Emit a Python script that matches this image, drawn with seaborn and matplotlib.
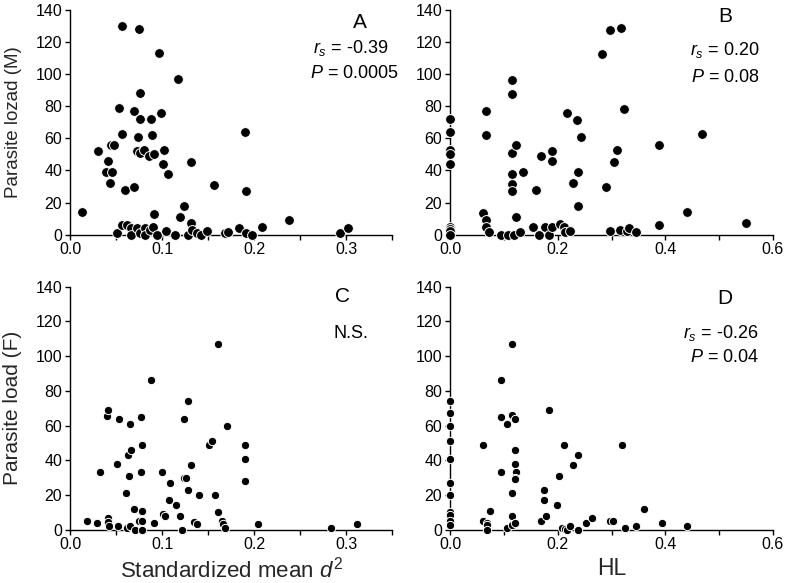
import matplotlib
matplotlib.use("Agg")
import matplotlib.pyplot as plt
import seaborn as sns
import pandas as pd
import numpy as np

# ---------------- data ----------------
A_x = [0.013, 0.056, 0.075, 0.097, 0.117, 0.076, 0.053, 0.070, 0.099, 0.076, 0.088, 0.057,
       0.0735, 0.089, 0.190, 0.030, 0.045, 0.048, 0.073, 0.076, 0.080, 0.086, 0.091, 0.1025,
       0.041, 0.101, 0.131, 0.039, 0.046, 0.107, 0.044, 0.060, 0.070, 0.157, 0.191, 0.124,
       0.120, 0.091, 0.131, 0.238, 0.209,
       0.051, 0.056, 0.062, 0.066, 0.066, 0.0725, 0.076, 0.0815, 0.0815, 0.087, 0.090, 0.095,
       0.104, 0.1145, 0.128, 0.133, 0.138, 0.142, 0.149, 0.1685, 0.172, 0.184, 0.191, 0.198,
       0.293, 0.302]
A_y = [14, 130, 128, 113, 97, 88, 79, 77, 76, 72, 72, 63,
       61, 62, 64, 52, 56, 56, 52, 51, 53, 49, 50, 53,
       46, 44, 45, 39, 39, 38, 32, 28, 30, 31, 27, 18,
       11, 13, 7, 9, 5,
       1, 6, 6, 4, 0, 4, 1, 4, 0, 3, 5, 0,
       2, 0, 0, 3, 1, 0, 2, 1, 1.5, 4, 1, 0,
       1, 4]

B_x = [0.0, 0.0, 0.0, 0.0, 0.0, 0.0, 0.0, 0.0, 0.0,
       0.062, 0.067, 0.067, 0.073, 0.067, 0.067, 0.095, 0.108, 0.118, 0.130,
       0.116, 0.116, 0.116, 0.122, 0.116, 0.116, 0.116, 0.122, 0.136, 0.155, 0.159,
       0.166, 0.169, 0.176, 0.184, 0.189, 0.189, 0.189, 0.204, 0.212, 0.214, 0.223,
       0.217, 0.228, 0.2365, 0.243, 0.237, 0.237, 0.283, 0.298, 0.318, 0.323, 0.311,
       0.304, 0.290, 0.298, 0.316, 0.328, 0.332, 0.345, 0.388, 0.388, 0.440, 0.468, 0.549]
B_y = [72, 64, 52.5, 50, 44, 5, 3.5, 2, 0,
       13.5, 9, 5, 1.5, 77, 62, 0, 0, 0, 1.5,
       96.5, 87.5, 51, 56, 38, 31.5, 27, 11, 39, 4.5, 28,
       0, 49, 4.5, 0, 5, 52, 46, 6.5, 4.5, 1.5, 2.5,
       76, 32, 71.5, 61, 39, 18, 112.5, 127.5, 129, 78.6, 53,
       45, 30, 2.5, 3, 2.5, 4, 1.5, 56, 6, 14, 63, 7]

C_x = [0.019, 0.029, 0.033, 0.040, 0.0417, 0.041, 0.041, 0.042, 0.051, 0.053, 0.0525,
       0.0605, 0.0616, 0.0627, 0.0645, 0.065, 0.065, 0.066, 0.070, 0.0707, 0.0746, 0.078,
       0.077, 0.078, 0.077, 0.078, 0.078, 0.0877, 0.091, 0.100, 0.1015, 0.103, 0.108,
       0.109, 0.115, 0.1196, 0.122, 0.124, 0.124, 0.1257, 0.1286, 0.1286, 0.131, 0.135,
       0.1377, 0.140, 0.151, 0.1547, 0.1576, 0.1605, 0.161, 0.165, 0.1667, 0.169, 0.171,
       0.190, 0.190, 0.190, 0.2047, 0.2837, 0.3123]
C_y = [5, 4, 33, 65.6, 69, 7, 4.6, 2.3, 38, 64, 2.3,
       21, 1, 43, 31, 2, 61, 46, 12, 0, 5, 5,
       65, 49, 33, 11, 0, 86, 4, 33, 9, 8, 17,
       27, 14, 8, 0, 64, 30, 30, 74, 23, 37, 4.6,
       3, 20, 49, 51, 20, 107, 10, 5, 3, 1, 60,
       49, 41, 28, 3, 1, 3]

D_x = [0.0, 0.0, 0.0, 0.0, 0.0, 0.0, 0.0, 0.0, 0.0, 0.0, 0.0,
       0.062, 0.062, 0.068, 0.068, 0.068, 0.074, 0.0947, 0.0947, 0.0947, 0.1065, 0.1065,
       0.115, 0.115, 0.121, 0.121, 0.121, 0.122, 0.121, 0.121, 0.115, 0.116, 0.116, 0.121,
       0.169, 0.174, 0.175, 0.178, 0.183, 0.199, 0.2025, 0.2087, 0.212, 0.2136, 0.217,
       0.223, 0.228, 0.237, 0.237, 0.2526, 0.264, 0.297, 0.303, 0.320, 0.3257, 0.345,
       0.360, 0.394, 0.4396]
D_y = [74, 67, 60, 51, 41, 27, 20, 10, 8.6, 5, 2.7,
       49, 5, 4, 2.7, 0, 11, 86, 65, 33, 61, 1,
       107, 66, 64, 46, 38, 33, 30, 29, 21, 7.7, 2.7, 4,
       5, 17, 23, 7.7, 69, 14, 31, 1, 49, 0.5, 0,
       2, 37, 43, 0, 4, 7, 5, 5, 49, 1, 2,
       12, 4, 2]

y_ticks = [0, 20, 40, 60, 80, 100, 120, 140]
d2_ticks = [0.0, 0.05, 0.1, 0.15, 0.2, 0.25, 0.3, 0.35]
d2_labels = ["0.0", "", "0.1", "", "0.2", "", "0.3", ""]
hl_ticks = [0.0, 0.1, 0.2, 0.3, 0.4, 0.5, 0.6]
hl_labels = ["0.0", "", "0.2", "", "0.4", "", "0.6"]

# ---------------- style ----------------
sns.set_theme(style="ticks")
plt.rcParams["font.family"] = ["Liberation Sans", "DejaVu Sans"]
plt.rcParams["mathtext.fontset"] = "custom"
plt.rcParams["mathtext.rm"] = "Liberation Sans"
plt.rcParams["mathtext.it"] = "Liberation Sans:italic"

W, H = 789, 583
fig = plt.figure(figsize=(W / 100, H / 100), dpi=100)


def px_rect(l, t, r, b):
    return [l / W, 1 - b / H, (r - l) / W, (b - t) / H]


axA = fig.add_axes(px_rect(70, 10, 392, 234.7))
axB = fig.add_axes(px_rect(450, 10, 773, 234.7))
axC = fig.add_axes(px_rect(70, 286.7, 392, 529.7))
axD = fig.add_axes(px_rect(450, 286.7, 773, 529.7))

panels = [
    (axA, A_x, A_y, (0, 0.35), d2_ticks, d2_labels, 50),
    (axB, B_x, B_y, (0, 0.6), hl_ticks, hl_labels, 50),
    (axC, C_x, C_y, (0, 0.35), d2_ticks, d2_labels, 36),
    (axD, D_x, D_y, (0, 0.6), hl_ticks, hl_labels, 36),
]

for ax, xs, ys, xlim, xt, xl, msize in panels:
    df = pd.DataFrame({"x": xs, "y": ys})
    sns.scatterplot(data=df, x="x", y="y", ax=ax, color="black", s=msize,
                    edgecolor="white", linewidth=0.7, clip_on=False, zorder=5)
    ax.set_xlim(*xlim)
    ax.set_ylim(0, 140)
    ax.set_xticks(xt)
    ax.set_xticklabels(xl)
    ax.set_yticks(y_ticks)
    ax.set_yticklabels([str(v) for v in y_ticks])
    for s in ["top", "right"]:
        ax.spines[s].set_visible(False)
    for s in ["left", "bottom"]:
        ax.spines[s].set_linewidth(1.0)
        ax.spines[s].set_color("black")
    ax.tick_params(axis="both", direction="out", length=3.5, width=1.0,
                   labelsize=11.5, colors="black", pad=2)
    ax.set_xlabel("")
    ax.set_ylabel("")

axA.set_ylabel("Parasite lozad (M)", fontsize=13.5)
axC.set_ylabel("Parasite load (F)", fontsize=15)
axA.yaxis.set_label_coords(-0.15, 0.5)
axC.yaxis.set_label_coords(-0.15, 0.5)
axC.set_xlabel(r"Standardized mean $\mathit{d}^{2}$", fontsize=16, labelpad=3)
axD.set_xlabel("HL", fontsize=16.5, labelpad=3)


def ftxt(x, y, s, ha="center", size=13):
    fig.text(x / W, 1 - y / H, s, ha=ha, va="center", fontsize=size, color="black")


ftxt(360, 22, "A", size=15)
ftxt(389, 48, r"$\mathit{r}_{s}$ = -0.39", ha="right")
ftxt(399, 74, r"$\mathit{P}$ = 0.0005", ha="right")

ftxt(725, 17, "B", size=15)
ftxt(760, 50, r"$\mathit{r}_{s}$ = 0.20", ha="right")
ftxt(760, 78, r"$\mathit{P}$ = 0.08", ha="right")

ftxt(343, 297, "C", size=15)
ftxt(351, 333, "N.S.")

ftxt(725, 298, "D", size=15)
ftxt(759, 333, r"$\mathit{r}_{s}$ = -0.26", ha="right")
ftxt(759, 358, r"$\mathit{P}$ = 0.04", ha="right")

fig.savefig("out.png", dpi=100, facecolor="white")
